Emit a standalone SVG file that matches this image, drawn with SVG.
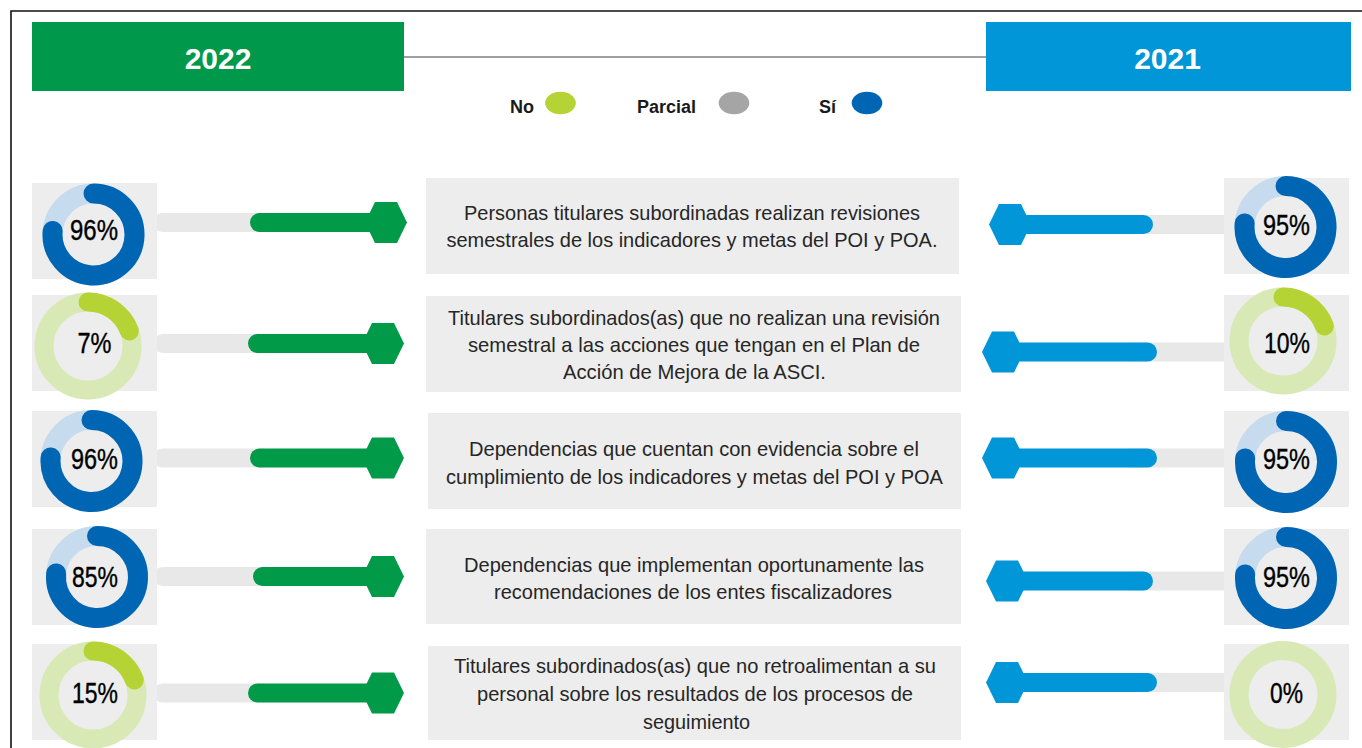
<svg xmlns="http://www.w3.org/2000/svg" width="1362" height="748" viewBox="0 0 1362 748">
<style>
.bg{fill:#EDEDED}
.gbar{fill:#E8E8E8}
.lb{fill:none;stroke:#C6DBEE;stroke-width:20}
.db{fill:none;stroke:#0066B3;stroke-width:20;stroke-linecap:round}
.lg{fill:none;stroke:#D8E9B5;stroke-width:19}
.dg{fill:none;stroke:#B5D334;stroke-width:19;stroke-linecap:round}
.pct{font-family:"Liberation Sans",Arial,sans-serif;font-size:29px;fill:#000;stroke:#000;stroke-width:0.4;text-anchor:middle}
.desc{font-family:"Liberation Sans",Arial,sans-serif;font-size:21px;fill:#262626;text-anchor:middle}
.leg{font-family:"Liberation Sans",Arial,sans-serif;font-size:18px;font-weight:bold;fill:#1a1a1a}
.hdr{font-family:"Liberation Sans",Arial,sans-serif;font-size:30px;font-weight:bold;fill:#fff;text-anchor:middle}
.garr{fill:#009A49}
.barr{fill:#0096D8}
</style>
<rect x="0" y="0" width="1362" height="748" fill="#fff"/>
<path d="M11 748 V11 H1362" fill="none" stroke="#111" stroke-width="1.6"/>

<g id="header">
<line x1="404" y1="57" x2="986" y2="57" stroke="#7f7f7f" stroke-width="1.5"/>
<rect x="32" y="22" width="372" height="69" fill="#00984A"/>
<text class="hdr" x="218" y="69">2022</text>
<rect x="986" y="22" width="365" height="69" fill="#0096D8"/>
<text class="hdr" x="1167.5" y="69">2021</text>
</g>

<g id="legend">
<text class="leg" x="510" y="113">No</text>
<ellipse cx="560.5" cy="103" rx="15.3" ry="11.3" fill="#B5D334"/>
<text class="leg" x="637" y="113">Parcial</text>
<ellipse cx="734" cy="103" rx="15.3" ry="11.3" fill="#A5A5A5"/>
<text class="leg" x="819" y="113">Sí</text>
<ellipse cx="867" cy="103" rx="15.3" ry="11.3" fill="#0066B3"/>
</g>

<g id="connectors">
<rect class="gbar" x="153" y="213" width="120" height="19" rx="9.5"/>
<rect class="gbar" x="153" y="334" width="120" height="19" rx="9.5"/>
<rect class="gbar" x="153" y="448.5" width="120" height="19" rx="9.5"/>
<rect class="gbar" x="153" y="567" width="120" height="19" rx="9.5"/>
<rect class="gbar" x="153" y="683.5" width="120" height="19" rx="9.5"/>
<rect class="garr" x="250" y="213" width="136" height="19" rx="9.5"/>
<polygon class="garr" points="365,222.5 375,202 397,202 407,222.5 397,243 375,243"/>
<rect class="garr" x="248" y="334" width="135" height="19" rx="9.5"/>
<polygon class="garr" points="362,343.5 372,323 394,323 404,343.5 394,364 372,364"/>
<rect class="garr" x="250" y="448.5" width="133" height="19" rx="9.5"/>
<polygon class="garr" points="362,458 372,437.5 394,437.5 404,458 394,478.5 372,478.5"/>
<rect class="garr" x="253" y="567" width="130" height="19" rx="9.5"/>
<polygon class="garr" points="362,576.5 372,556 394,556 404,576.5 394,597 372,597"/>
<rect class="garr" x="248" y="683.5" width="135" height="19" rx="9.5"/>
<polygon class="garr" points="362,693 372,672.5 394,672.5 404,693 394,713.5 372,713.5"/>
<rect class="gbar" x="1120" y="215" width="113" height="19" rx="9.5"/>
<rect class="gbar" x="1120" y="342.5" width="113" height="19" rx="9.5"/>
<rect class="gbar" x="1120" y="448.5" width="113" height="19" rx="9.5"/>
<rect class="gbar" x="1120" y="571.5" width="113" height="19" rx="9.5"/>
<rect class="gbar" x="1120" y="673" width="113" height="19" rx="9.5"/>
<rect class="barr" x="1010" y="215" width="143" height="19" rx="9.5"/>
<polygon class="barr" points="989,224.5 999,204 1021,204 1031,224.5 1021,245 999,245"/>
<rect class="barr" x="1003" y="342.5" width="154" height="19" rx="9.5"/>
<polygon class="barr" points="982,352 992,331.5 1014,331.5 1024,352 1014,372.5 992,372.5"/>
<rect class="barr" x="1003" y="448.5" width="154" height="19" rx="9.5"/>
<polygon class="barr" points="982,458 992,437.5 1014,437.5 1024,458 1014,478.5 992,478.5"/>
<rect class="barr" x="1007" y="571.5" width="146" height="19" rx="9.5"/>
<polygon class="barr" points="986,581 996,560.5 1018,560.5 1028,581 1018,601.5 996,601.5"/>
<rect class="barr" x="1007" y="673" width="150" height="19" rx="9.5"/>
<polygon class="barr" points="986,682.5 996,662 1018,662 1028,682.5 1018,703 996,703"/>
</g>

<g id="left1">
<rect class="bg" x="32" y="183" width="125" height="96"/>
<circle class="lb" cx="93.5" cy="234.5" r="41"/>
<path class="db" d="M93.5 193.5 A41 41 0 1 1 52.66 230.93"/>
<text class="pct" x="94" y="240" textLength="48" lengthAdjust="spacingAndGlyphs">96%</text>
</g>
<g id="desc1">
<rect class="bg" x="426" y="178" width="533" height="96"/>
<text class="desc" x="692" y="220" textLength="456" lengthAdjust="spacingAndGlyphs">Personas titulares subordinadas realizan revisiones</text>
<text class="desc" x="692" y="247" textLength="491" lengthAdjust="spacingAndGlyphs">semestrales de los indicadores y metas del POI y POA.</text>
</g>
<g id="right1">
<rect class="bg" x="1224" y="178" width="125" height="96"/>
<circle class="lb" cx="1285.5" cy="227" r="41"/>
<path class="db" d="M1285.5 186 A41 41 0 1 1 1244.66 223.43"/>
<text class="pct" x="1286.5" y="235" textLength="47" lengthAdjust="spacingAndGlyphs">95%</text>
</g>

<g id="left2">
<rect class="bg" x="32" y="295" width="125" height="96"/>
<circle class="lg" cx="88" cy="346" r="44"/>
<path class="dg" d="M88 302 A44 44 0 0 1 129.35 330.95"/>
<text class="pct" x="94.5" y="353" textLength="34" lengthAdjust="spacingAndGlyphs">7%</text>
</g>
<g id="desc2">
<rect class="bg" x="426" y="296" width="535" height="96"/>
<text class="desc" x="694" y="325" textLength="492" lengthAdjust="spacingAndGlyphs">Titulares subordinados(as) que no realizan una revisión</text>
<text class="desc" x="694" y="352" textLength="452" lengthAdjust="spacingAndGlyphs">semestral a las acciones que tengan en el Plan de</text>
<text class="desc" x="694.5" y="379" textLength="263" lengthAdjust="spacingAndGlyphs">Acción de Mejora de la ASCI.</text>
</g>
<g id="right2">
<rect class="bg" x="1224" y="295" width="125" height="96"/>
<circle class="lg" cx="1283" cy="341" r="44"/>
<path class="dg" d="M1283 297 A44 44 0 0 1 1324.35 325.95"/>
<text class="pct" x="1287" y="353" textLength="46" lengthAdjust="spacingAndGlyphs">10%</text>
</g>

<g id="left3">
<rect class="bg" x="32" y="411" width="125" height="96"/>
<circle class="lb" cx="91.5" cy="461" r="41"/>
<path class="db" d="M91.5 420 A41 41 0 1 1 50.66 457.43"/>
<text class="pct" x="94.5" y="469" textLength="47" lengthAdjust="spacingAndGlyphs">96%</text>
</g>
<g id="desc3">
<rect class="bg" x="428" y="413" width="533" height="96"/>
<text class="desc" x="694" y="456" textLength="450" lengthAdjust="spacingAndGlyphs">Dependencias que cuentan con evidencia sobre el</text>
<text class="desc" x="694.5" y="484" textLength="497" lengthAdjust="spacingAndGlyphs">cumplimiento de los indicadores y metas del POI y POA</text>
</g>
<g id="right3">
<rect class="bg" x="1224" y="411" width="125" height="96"/>
<circle class="lb" cx="1286" cy="462" r="41"/>
<path class="db" d="M1286 421 A41 41 0 1 1 1245.16 458.43"/>
<text class="pct" x="1286.5" y="469" textLength="47" lengthAdjust="spacingAndGlyphs">95%</text>
</g>

<g id="left4">
<rect class="bg" x="32" y="529" width="125" height="96"/>
<circle class="lb" cx="97" cy="577" r="41"/>
<path class="db" d="M97 536 A41 41 0 1 1 56.16 573.43"/>
<text class="pct" x="95" y="587" textLength="46" lengthAdjust="spacingAndGlyphs">85%</text>
</g>
<g id="desc4">
<rect class="bg" x="426" y="529" width="535" height="95"/>
<text class="desc" x="694" y="572" textLength="460" lengthAdjust="spacingAndGlyphs">Dependencias que implementan oportunamente las</text>
<text class="desc" x="693" y="599" textLength="398" lengthAdjust="spacingAndGlyphs">recomendaciones de los entes fiscalizadores</text>
</g>
<g id="right4">
<rect class="bg" x="1224" y="529" width="125" height="96"/>
<circle class="lb" cx="1286" cy="578" r="41"/>
<path class="db" d="M1286 537 A41 41 0 1 1 1245.16 574.43"/>
<text class="pct" x="1286.5" y="587" textLength="47" lengthAdjust="spacingAndGlyphs">95%</text>
</g>

<g id="left5">
<rect class="bg" x="32" y="644" width="125" height="96"/>
<circle class="lg" cx="93" cy="695" r="44"/>
<path class="dg" d="M93 651 A44 44 0 0 1 134.35 679.95"/>
<text class="pct" x="95" y="703" textLength="46" lengthAdjust="spacingAndGlyphs">15%</text>
</g>
<g id="desc5">
<rect class="bg" x="428" y="646" width="533" height="94"/>
<text class="desc" x="695" y="673" textLength="482" lengthAdjust="spacingAndGlyphs">Titulares subordinados(as) que no retroalimentan a su</text>
<text class="desc" x="695" y="701" textLength="436" lengthAdjust="spacingAndGlyphs">personal sobre los resultados de los procesos de</text>
<text class="desc" x="696.5" y="729" textLength="107" lengthAdjust="spacingAndGlyphs">seguimiento</text>
</g>
<g id="right5">
<rect class="bg" x="1224" y="644" width="125" height="96"/>
<circle class="lg" cx="1283" cy="694.5" r="44"/>
<text class="pct" x="1286.5" y="703" textLength="33" lengthAdjust="spacingAndGlyphs">0%</text>
</g>
</svg>
